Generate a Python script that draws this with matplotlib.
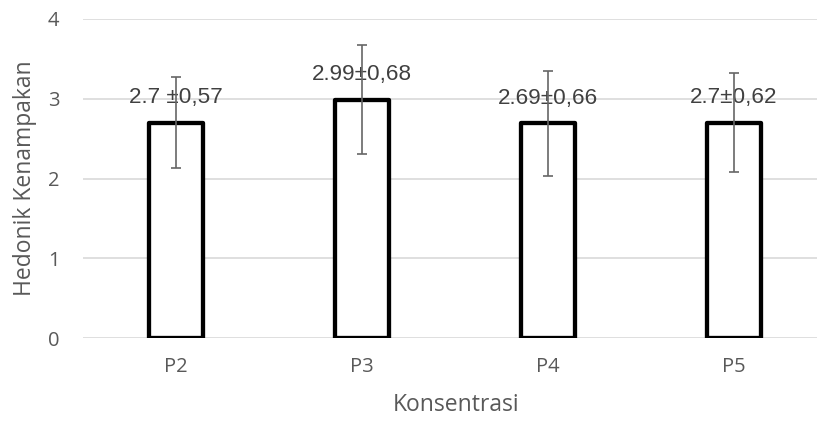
import matplotlib
matplotlib.use("Agg")
import matplotlib.pyplot as plt
import numpy as np

categories = ["P2", "P3", "P4", "P5"]
means = [2.70, 2.99, 2.69, 2.70]
sds = [0.57, 0.68, 0.66, 0.62]
labels = ["2.7 \u00b10,57", "2.99\u00b10,68", "2.69\u00b10,66", "2.7\u00b10,62"]
yticks = [0, 1, 2, 3, 4]

W, H = 817, 421
fig = plt.figure(figsize=(W / 100, H / 100), dpi=100)
ax = fig.add_axes([83 / W, (H - 338) / H, 744 / W, 319 / H])

x = np.arange(len(categories))
ax.bar(x, means, width=0.295, facecolor="white", edgecolor="black",
       linewidth=3.1, joinstyle="round", zorder=3)

for xi, m, lab in zip(x, means, labels):
    ax.annotate(lab, (xi, m), xytext=(0, 18), textcoords="offset points",
                ha="center", va="center", fontsize=16.2,
                family="Liberation Sans", color="#404040", zorder=4)

ax.errorbar(x, means, yerr=sds, fmt="none", ecolor="#666666",
            elinewidth=1.2, capsize=3.3, capthick=1.2, zorder=5)

ax.set_xlim(-0.5, len(categories) - 0.5)
ax.set_ylim(0, 4)
ax.set_yticks(yticks)
ax.set_xticks(x)
ax.set_xticklabels(categories)
ax.grid(axis="y", color="#d9d9d9", linewidth=1.2, zorder=0)
ax.set_axisbelow(True)
for s in ax.spines.values():
    s.set_visible(False)
ax.tick_params(axis="both", length=0, labelcolor="#595959", labelsize=14.5)
ax.tick_params(axis="y", pad=17)
ax.tick_params(axis="x", pad=14)
for t in ax.get_xticklabels() + ax.get_yticklabels():
    t.set_family("Open Sans")

fig.text(456 / W, 1 - 405 / H, "Konsentrasi", ha="center", va="center",
         fontsize=16.5, family="Open Sans", color="#595959")
fig.text(25 / W, 1 - 178 / H, "Hedonik Kenampakan", ha="center", va="center",
         rotation=90, fontsize=16.5, family="Open Sans", color="#595959")

fig.savefig("out.png", dpi=100)
